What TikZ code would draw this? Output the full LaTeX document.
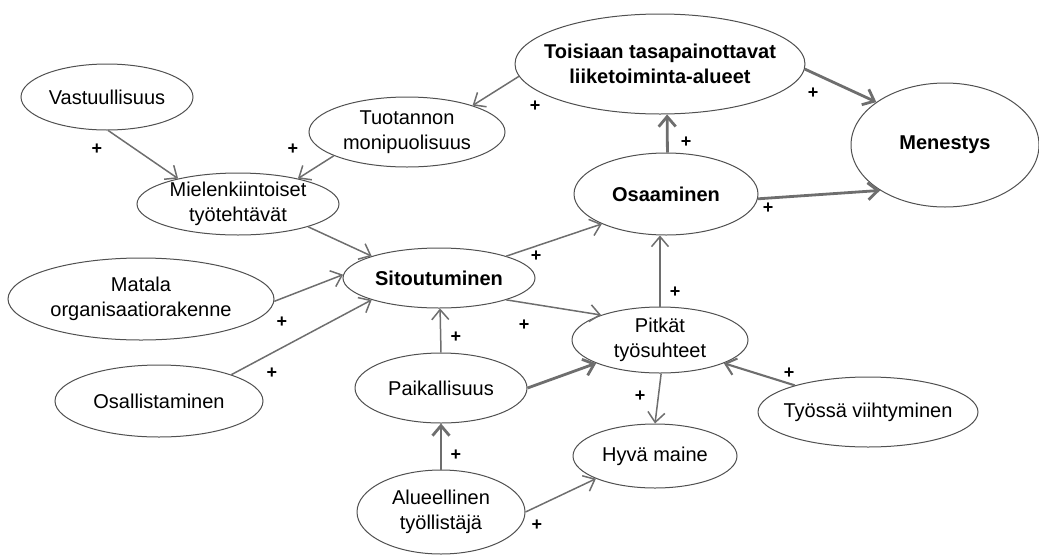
\documentclass[tikz,border=0pt]{standalone}
\usepackage{fontspec}
\setmainfont{Liberation Sans}
\usetikzlibrary{shapes.geometric,arrows.meta}
\definecolor{linegray}{HTML}{6E6E6E}
\definecolor{rimgray}{HTML}{505050}
\tikzset{
  bubble/.style={ellipse, draw=rimgray, line width=1pt, fill=white,
    inner xsep=-30pt, inner ysep=-20pt, align=center,
    font=\fontsize{20}{25}\selectfont},
  keybubble/.style={bubble, font=\fontsize{20}{25}\selectfont\bfseries},
  link/.style={draw=linegray, line width=1.5pt,
    -{Straight Barb[length=10pt,width=17pt]}},
  midlink/.style={link, line width=2.1pt},
  strong/.style={link, line width=2.8pt},
  sign/.style={font=\fontsize{18}{18}\selectfont\bfseries, inner sep=0pt},
}
\begin{document}
\begin{tikzpicture}[x=1pt,y=-1pt]
\useasboundingbox (0,0) rectangle (1039,555);

% factors
\node[bubble, minimum width=172pt, minimum height=66pt] (vast) at (107,97) {Vastuullisuus};
\node[bubble, minimum width=196pt, minimum height=70pt] (tuot) at (407,132) {Tuotannon\\monipuolisuus};
\node[keybubble, minimum width=290pt, minimum height=100pt] (tasa) at (660,64) {Toisiaan tasapainottavat\\liiketoiminta-alueet};
\node[keybubble, minimum width=188pt, minimum height=124pt] (men) at (945,145) {Menestys};
\node[keybubble, minimum width=184pt, minimum height=82pt] (osa) at (666,194) {Osaaminen};
\node[bubble, minimum width=202pt, minimum height=62pt] (miel) at (238,204) {Mielenkiintoiset\\työtehtävät};
\node[keybubble, minimum width=192pt, minimum height=60pt] (sit) at (439,278) {Sitoutuminen};
\node[bubble, minimum width=266pt, minimum height=82pt] (mat) at (141,299) {Matala\\organisaatiorakenne};
\node[bubble, minimum width=208pt, minimum height=72pt] (osal) at (159,401) {Osallistaminen};
\node[bubble, minimum width=172pt, minimum height=70pt] (paik) at (441,388) {Paikallisuus};
\node[bubble, minimum width=176pt, minimum height=66pt] (pitk) at (660,340) {Pitkät\\työsuhteet};
\node[bubble, minimum width=164pt, minimum height=64pt] (hyva) at (655,456) {Hyvä maine};
\node[bubble, minimum width=220pt, minimum height=70pt] (tyo) at (868,412) {Työssä viihtyminen};
\node[bubble, minimum width=168pt, minimum height=84pt] (alue) at (441,512) {Alueellinen\\työllistäjä};

% influences
\draw[link] (vast.-88) -- (miel.157);
\draw[link] (tuot.198) -- (miel.23);
\draw[link] (tasa.185) -- (tuot.22);
\draw[strong] (osa.88) -- (tasa.-82);
\draw[strong] (tasa.-2) -- (men.148);
\draw[strong] (osa.-3) -- (men.215);
\draw[link] (miel.-18) -- (sit.162);
\draw[link] (mat.-1) -- (sit.178);
\draw[link] (osal.20) -- (sit.198);
\draw[link] (paik.north) -- (sit.-88);
\draw[link] (sit.18) -- (osa.205);
\draw[link] (sit.-18) -- (pitk.157);
\draw[link] (pitk.north) -- (pitk.north |- osa.south);
\draw[strong] (paik.0) -- (pitk.200);
\draw[link] (pitk.-88) -- (hyva.north);
\draw[midlink] (tyo.160) -- (pitk.-20);
\draw[strong] (alue.north) -- (paik.south);
\draw[link] (alue.0) -- (hyva.201);

% signs of the influences
\node[sign] (p1) at (97,149) {+};
\node[sign] (p2) at (293,149) {+};
\node[sign] (p3) at (535,106) {+};
\node[sign] (p4) at (686,142) {+};
\node[sign] (p5) at (813,93) {+};
\node[sign] (p6) at (768,208) {+};
\node[sign] (p7) at (536,256) {+};
\node[sign] (p8) at (282,322) {+};
\node[sign] (p9) at (272,373) {+};
\node[sign] (p10) at (456,337) {+};
\node[sign] (p11) at (524,325) {+};
\node[sign] (p12) at (675,292) {+};
\node[sign] (p13) at (640,396) {+};
\node[sign] (p14) at (789,373) {+};
\node[sign] (p15) at (456,455) {+};
\node[sign] (p16) at (537,525) {+};
\end{tikzpicture}
\end{document}
